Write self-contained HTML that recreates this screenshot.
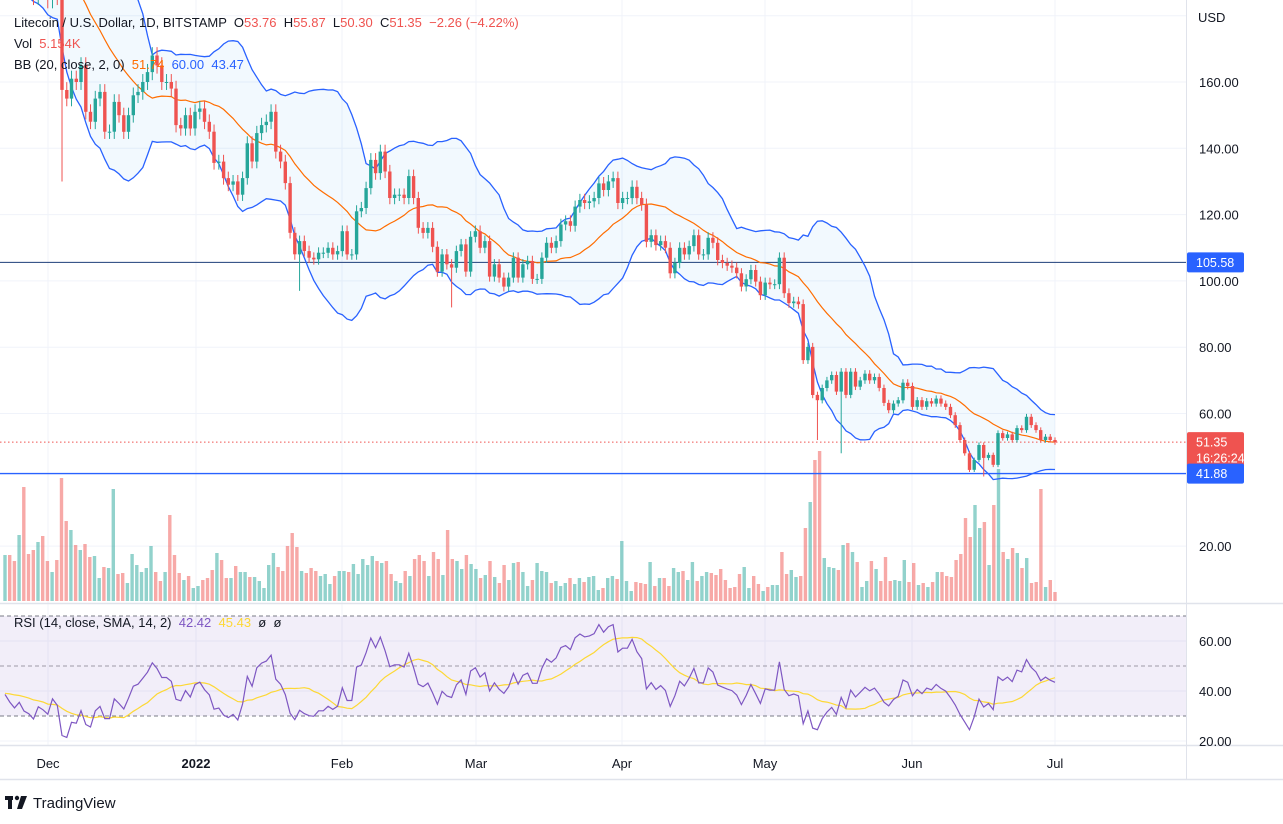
<!DOCTYPE html>
<html><head><meta charset="utf-8"><style>
html,body{margin:0;padding:0;background:#fff;width:1283px;height:824px;overflow:hidden}
svg{display:block;font-family:"Liberation Sans",sans-serif}
</style></head><body>
<svg id="c" width="1283" height="824" viewBox="0 0 1283 824"></svg>
<script>
// ---------- data ----------
const preHistory=[225,230,235,232,228,236,240,232,226,220,218,222,216,212,210,214,208,206,210,204];
const closes=[205,200,196,198,192,190,186,190,188,185,190,186,
157.6,155,161,160,165,151,148,155,157,145,145,154,150,145,150,156,157,160,163,168,165,160,160,158,147,146,150,146,151,152,148,145,135.6,136,131,129,130,126,131,141.5,136,144.6,147,148,151,139,136,129.5,114.5,108,112,109,107,106.5,108.5,108.5,110,108,109,115,108,108,121,122,128,136.5,132.5,139,133,125,126,
126,125,131.6,125,116,114.5,116,110.3,102.8,108,105,104,109,111,102.8,113.3,115,110,112,101.3,105,101,98.3,101,107,101,105,106,100.6,100.6,107,111.5,110,112,117,118,116.6,122.4,124.4,123.5,124,125,129.4,127.4,130,131,123.5,125,125,128.4,125,123,111.8,113.8,110.8,112,110,102.3,105.4,110,108,110.5,113.8,108,108,113,111.5,106.3,105.4,104.6,104,102.3,98.3,100.5,103.3,99.8,95.7,99.5,99,99,107,96.3,93.3,93.8,93,
76.1,80.1,65.6,64,67.7,70,71.6,66.6,72.6,65.6,72.6,68.1,70,72,70,71,67.7,63.2,61,63,64,69.3,68.3,62,64,62,63.7,63,64.5,63,62,59.5,56.5,52,48,43,46,50.5,46.6,47.5,44.5,54.1,52.6,53.7,52,55.6,55,59,56.5,55,52,53,52,51.35];
const wickIdx=[12,62,94,171,176,206];
const wickLow=[130,97,92,52,48,41];
const volumes=[46,46,40,66,114,47,51,59,65,40,29,41,123,80,71,56,51,57,44,45,23,34,33,112,27,28,18,47,36,29,33,55,29,20,29,86,46,28,21,25,13,15,21,23,31,48,41,23,23,35,29,29,24,24,20,13,36,48,34,30,55,68,54,30,28,33,30,25,27,17,25,30,30,29,37,27,42,36,45,40,38,40,27,20,18,30,25,42,46,40,25,49,42,26,71,42,40,32,46,37,32,23,26,40,24,18,36,21,38,39,29,15,21,38,
30,29,18,20,15,18,23,17,23,19,24,25,11,13,23,25,22,60,20,10,19,18,17,39,15,23,23,15,33,29,30,21,39,20,25,29,28,26,32,21,13,14,27,34,13,25,17,10,14,16,16,49,27,31,24,25,73,99,141,150,43,34,33,31,56,58,49,39,14,20,40,32,20,44,20,21,20,41,19,38,16,18,14,19,29,29,25,24,41,47,83,64,96,73,79,36,96,132,49,42,53,48,33,43,18,19,112,14,21,9];
const priceTicks=[160,140,120,100,80,60,20];
const rsiTicks=[60,40,20];
const months=["Dec","2022","Feb","Mar","Apr","May","Jun","Jul"];
const monthX=[48,196,342,476,622,765,912,1055];

// ---------- scales ----------
const N=closes.length;
const X0=5,X1=1055;
const dx=(X1-X0)/(N-1);
const xs=i=>X0+i*dx;
const py=p=>82+(160-p)*3.315;
const ry=r=>691-(r-40)*2.5;
const VB=601;
const NS="http://www.w3.org/2000/svg";
const svg=document.getElementById('c');
function mk(tag,attrs,parent){const e=document.createElementNS(NS,tag);for(const k in attrs)e.setAttribute(k,attrs[k]);(parent||svg).appendChild(e);return e;}

const defs=mk('defs',{});
const cp=mk('clipPath',{id:'main'},defs);mk('rect',{x:0,y:0,width:1186,height:603},cp);
const cp2=mk('clipPath',{id:'rsi'},defs);mk('rect',{x:0,y:604,width:1186,height:141},cp2);

const grid=mk('g',{});


monthX.forEach(x=>{mk('line',{x1:x,x2:x,y1:0,y2:745,stroke:'#f0f3fa','stroke-width':1},grid);});
priceTicks.concat([180]).forEach(p=>{mk('line',{x1:0,x2:1186,y1:py(p),y2:py(p),stroke:'#f0f3fa'},grid);});
rsiTicks.forEach(r=>{mk('line',{x1:0,x2:1186,y1:ry(r),y2:ry(r),stroke:'#f0f3fa'},grid);});

const all=preHistory.concat(closes);
const P=preHistory.length;
const mid=[],up=[],lo=[];
for(let i=0;i<N;i++){const j=i+P;const w=all.slice(j-19,j+1);const m=w.reduce((a,b)=>a+b,0)/20;const sd=Math.sqrt(w.reduce((a,b)=>a+(b-m)*(b-m),0)/20);mid.push(m);up.push(m+2*sd);lo.push(m-2*sd);}

const mg=mk('g',{'clip-path':'url(#main)'});
let d='M'+up.map((v,i)=>xs(i).toFixed(1)+','+py(v).toFixed(1)).join('L')+'L'+lo.map((v,i)=>xs(i).toFixed(1)+','+py(v).toFixed(1)).reverse().join('L')+'Z';
const bf=mk('path',{d:d,fill:'rgba(33,150,243,0.06)'},mg);



const vg=mk('g',{},mg);


const V=volumes.length;const vdx=(X1-X0)/(V-1);
volumes.forEach((v,k)=>{const x=X0+k*vdx;const ci=Math.round((x-X0)/dx);const o=ci==0?preHistory[P-1]:closes[ci-1];const isUp=closes[ci]>=o;
 const r=mk('rect',{x:(x-1.7).toFixed(1),y:VB-v,width:3.4,height:v,fill:isUp?'rgba(38,166,154,0.5)':'rgba(239,83,80,0.5)'},vg);
 
 });

const hl1=mk('line',{x1:0,x2:1186,y1:py(105.58),y2:py(105.58),stroke:'#1e3f7a','stroke-width':1},mg);


const hl2=mk('line',{x1:0,x2:1186,y1:py(41.88),y2:py(41.88),stroke:'#2962ff','stroke-width':1.3},mg);


const pl=mk('line',{x1:0,x2:1186,y1:py(51.35),y2:py(51.35),stroke:'#ef5350','stroke-width':1,'stroke-dasharray':'1.5,2.5'},mg);



function pathOf(arr,f){return 'M'+arr.map((v,i)=>xs(i).toFixed(1)+','+f(v).toFixed(1)).join('L');}
const bu=mk('path',{d:pathOf(up,py),fill:'none',stroke:'#2962ff','stroke-width':1.3},mg);


const bl=mk('path',{d:pathOf(lo,py),fill:'none',stroke:'#2962ff','stroke-width':1.3},mg);


const bm=mk('path',{d:pathOf(mid,py),fill:'none',stroke:'#ff6d00','stroke-width':1.2},mg);



const cg=mk('g',{},mg);


for(let i=0;i<N;i++){const o=i==0?preHistory[P-1]:closes[i-1];const c=closes[i];const isUp=c>=o;const col=isUp?'#26a69a':'#ef5350';
 let hi=Math.max(o,c)*1.015,lw=Math.min(o,c)*0.985;const wi=wickIdx.indexOf(i);if(wi>=0)lw=wickLow[wi];
 const x=xs(i);
 const w=mk('line',{x1:x,x2:x,y1:py(hi),y2:py(lw),stroke:col,'stroke-width':1},cg);
 
 
 const t=Math.min(py(o),py(c));const h=Math.max(1,Math.abs(py(o)-py(c)));
 const b=mk('rect',{x:(x-1.7).toFixed(1),y:t.toFixed(1),width:3.4,height:h.toFixed(1),fill:col},cg);
 
 }

const gains=[],losses=[];for(let j=1;j<all.length;j++){const ch=all[j]-all[j-1];gains.push(Math.max(ch,0));losses.push(Math.max(-ch,0));}
let ag=gains.slice(0,14).reduce((a,b)=>a+b,0)/14,al=losses.slice(0,14).reduce((a,b)=>a+b,0)/14;const rsiAll=[];
for(let j=0;j<gains.length;j++){if(j>=14){ag=(ag*13+gains[j])/14;al=(al*13+losses[j])/14;}rsiAll.push(al==0?100:100-100/(1+ag/al));}
const rsi=rsiAll.slice(rsiAll.length-N);
const rsiSma=rsi.map((v,i)=>{const j=rsiAll.length-N+i;const w=rsiAll.slice(Math.max(0,j-13),j+1);return w.reduce((a,b)=>a+b,0)/w.length;});

const rg=mk('g',{'clip-path':'url(#rsi)'});
const band=mk('rect',{x:0,y:ry(70),width:1186,height:ry(30)-ry(70),fill:'rgba(126,87,194,0.1)'},rg);


[70,50,30].forEach(v=>{const l=mk('line',{x1:0,x2:1186,y1:ry(v),y2:ry(v),stroke:v==50?'#9e9aa8':'#787b86','stroke-width':1,'stroke-dasharray':'4,3'},rg);
 
 });
const rs=mk('path',{d:pathOf(rsiSma,ry),fill:'none',stroke:'#fdd835','stroke-width':1.2},rg);


const rl=mk('path',{d:pathOf(rsi,ry),fill:'none',stroke:'#7e57c2','stroke-width':1.2},rg);



mk('line',{x1:0,x2:1283,y1:603.5,y2:603.5,stroke:'#e0e3eb','stroke-width':1.5});
mk('line',{x1:0,x2:1283,y1:745.5,y2:745.5,stroke:'#e0e3eb','stroke-width':1.5});
mk('line',{x1:0,x2:1283,y1:779.5,y2:779.5,stroke:'#e0e3eb','stroke-width':1.5});
mk('line',{x1:1186.5,x2:1186.5,y1:0,y2:780,stroke:'#e0e3eb','stroke-width':1});

function txt(x,y,s,attrs,name){const t=mk('text',Object.assign({x:x,y:y,'font-size':13,fill:'#131722'},attrs||{}));t.textContent=s;return t;}
txt(1198,22,'USD',{},'currency-label');
priceTicks.forEach(p=>txt(1199,py(p)+5,p.toFixed(2),{},'price-tick'));
rsiTicks.forEach(r=>txt(1199,ry(r)+5,r.toFixed(2),{},'rsi-tick'));
months.forEach((m,k)=>txt(monthX[k],768,m,{'text-anchor':'middle','font-weight':m=='2022'?'bold':'normal'},'time-tick'));

function tag(p,h,col,lines,name){const g=mk('g',{});
 const y=py(p);mk('rect',{x:1187,y:y-10,width:57,height:h,fill:col,rx:2},g);
 lines.forEach((s,k)=>{const t=mk('text',{x:1196,y:y+4.5+k*16,'font-size':12.5,fill:'#fff'},g);t.textContent=s;});}
tag(105.58,20,'#2962ff',['105.58'],'price-tag-105');
tag(51.35,36,'#ef5350',['51.35','16:26:24'],'price-tag-last');
tag(41.88,20,'#2962ff',['41.88'],'price-tag-41');

const lg=mk('text',{x:14,y:27,'font-size':13,fill:'#131722'});
lg.innerHTML='Litecoin / U.S. Dollar, 1D, BITSTAMP &#160;O<tspan fill="#ef5350">53.76</tspan> &#160;H<tspan fill="#ef5350">55.87</tspan> &#160;L<tspan fill="#ef5350">50.30</tspan> &#160;C<tspan fill="#ef5350">51.35 &#160;−2.26 (−4.22%)</tspan>';
const vl=mk('text',{x:14,y:48,'font-size':13,fill:'#131722'});
vl.innerHTML='Vol &#160;<tspan fill="#ef5350">5.154K</tspan>';
const bbl=mk('text',{x:14,y:69,'font-size':13,fill:'#131722'});
bbl.innerHTML='BB (20, close, 2, 0) &#160;<tspan fill="#ff6d00">51.74</tspan> &#160;<tspan fill="#2962ff">60.00</tspan> &#160;<tspan fill="#2962ff">43.47</tspan>';
const rsl=mk('text',{x:14,y:627,'font-size':13,fill:'#131722'});
rsl.innerHTML='RSI (14, close, SMA, 14, 2) &#160;<tspan fill="#7e57c2">42.42</tspan> &#160;<tspan fill="#fdd835">45.43</tspan> &#160;ø &#160;ø';

const lgo=mk('g',{});
mk('rect',{x:5,y:796,width:8,height:4,fill:'#131722'},lgo);mk('rect',{x:8,y:796,width:4,height:13,fill:'#131722'},lgo);
mk('circle',{cx:17,cy:798,r:2.2,fill:'#131722'},lgo);mk('path',{d:'M21 796 L27 796 L22 809 L17 809 Z',fill:'#131722'},lgo);
const tvt=mk('text',{x:33,y:808,'font-size':15,fill:'#131722'},lgo);tvt.textContent='TradingView';
</script>
</body></html>
